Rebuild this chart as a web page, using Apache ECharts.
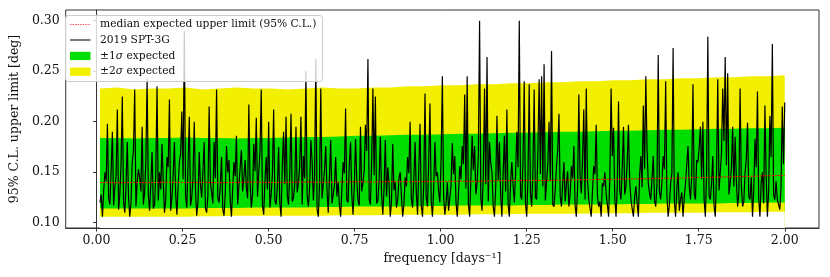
<!DOCTYPE html>
<html><head><meta charset="utf-8">
<script src="https://cdn.jsdelivr.net/npm/echarts@6/dist/echarts.min.js"></script>
<style>html,body{margin:0;padding:0;background:#fff}#c{width:830px;height:277px}</style>
</head><body><div id="c"></div>
<script>
// observed 2019 SPT-3G upper limits (deg), evenly spaced in frequency
const obsStart = 0.01, obsEnd = 2.0;
const observed = [
0.120,0.128,0.106,0.132,0.150,0.141,0.198,0.124,0.118,0.152,0.190,0.117,0.135,0.146,0.212,0.113,0.128,0.158,0.225,0.121,0.110,0.137,0.180,0.126,0.106,0.119,0.160,0.171,0.232,0.116,0.140,0.153,
0.145,0.131,0.195,0.118,0.130,0.162,0.243,0.127,0.112,0.139,0.170,0.114,0.118,0.149,0.235,0.122,0.150,0.133,0.178,0.141,0.110,0.123,0.165,0.155,0.222,0.112,0.125,0.147,0.180,0.129,0.108,0.136,0.160,0.168,0.210,0.143,0.290,0.126,0.115,0.158,0.205,0.117,0.125,0.145,0.200,0.132,0.107,0.121,0.170,0.138,0.125,0.152,0.180,0.114,0.110,0.127,0.215,0.140,0.130,0.119,
0.180,0.144,0.232,0.125,0.120,0.137,0.165,0.113,0.107,0.129,0.176,0.150,0.162,0.121,0.106,0.134,0.160,0.146,0.186,0.118,0.118,0.155,0.172,0.131,0.145,0.162,0.135,0.124,0.217,0.139,0.115,0.128,0.178,0.151,0.204,0.126,0.150,0.170,0.232,0.117,0.108,0.142,0.165,0.133,0.200,0.115,0.128,0.148,0.212,0.122,0.118,0.136,0.175,0.119,0.106,0.157,0.190,0.138,0.205,0.127,
0.118,0.149,0.208,0.121,0.125,0.138,0.195,0.130,0.140,0.156,0.205,0.118,0.166,0.144,0.250,0.127,0.116,0.135,0.182,0.161,0.122,0.146,0.262,0.113,0.106,0.140,0.233,0.124,0.123,0.152,0.176,0.132,0.110,0.145,0.182,0.119,0.120,0.137,0.165,0.126,0.140,0.118,0.106,0.133,0.160,0.149,0.213,0.122,0.120,0.158,0.180,0.128,0.108,0.136,0.183,0.143,0.122,0.117,0.195,0.131,
0.140,0.152,0.197,0.171,0.262,0.123,0.118,0.160,0.233,0.147,0.225,0.119,0.122,0.141,0.185,0.128,0.108,0.134,0.182,0.126,0.155,0.139,0.106,0.121,0.178,0.132,0.140,0.115,0.123,0.144,0.150,0.127,0.106,0.118,0.145,0.136,0.165,0.149,0.200,0.124,0.115,0.142,0.180,0.130,0.108,0.154,0.198,0.117,0.106,0.138,0.228,0.125,0.116,0.161,0.218,0.122,0.106,0.133,0.180,0.146,
0.150,0.131,0.120,0.163,0.245,0.127,0.108,0.119,0.140,0.112,0.125,0.137,0.179,0.148,0.166,0.120,0.106,0.129,0.156,0.143,0.176,0.158,0.227,0.134,0.245,0.118,0.106,0.145,0.186,0.152,0.176,0.128,0.139,0.166,0.300,0.124,0.112,0.147,0.233,0.138,0.264,0.121,0.180,0.159,0.150,0.116,0.106,0.135,0.206,0.142,0.180,0.126,0.106,0.149,0.186,0.131,0.212,0.118,0.106,0.140,
0.160,0.138,0.120,0.147,0.190,0.155,0.300,0.127,0.123,0.161,0.240,0.119,0.106,0.144,0.237,0.130,0.116,0.152,0.232,0.125,0.123,0.170,0.242,0.148,0.245,0.136,0.257,0.122,0.123,0.158,0.200,0.141,0.270,0.118,0.116,0.133,0.156,0.172,0.208,0.126,0.116,0.139,0.160,0.121,0.139,0.151,0.116,0.128,0.156,0.144,0.176,0.117,0.106,0.134,0.227,0.146,0.129,0.163,0.212,0.123,
0.233,0.142,0.123,0.115,0.106,0.131,0.156,0.148,0.197,0.127,0.116,0.121,0.106,0.139,0.136,0.150,0.129,0.118,0.106,0.145,0.233,0.166,0.194,0.124,0.106,0.137,0.220,0.132,0.123,0.155,0.195,0.128,0.136,0.160,0.197,0.141,0.123,0.114,0.106,0.126,0.136,0.119,0.106,0.147,0.166,0.135,0.216,0.153,0.245,0.172,0.139,0.129,0.123,0.144,0.166,0.122,0.116,0.138,0.266,0.131,
0.123,0.141,0.166,0.153,0.240,0.127,0.106,0.118,0.139,0.149,0.273,0.121,0.106,0.134,0.150,0.112,0.123,0.130,0.106,0.125,0.139,0.158,0.176,0.137,0.123,0.146,0.237,0.129,0.123,0.162,0.160,0.174,0.195,0.143,0.200,0.122,0.106,0.151,0.284,0.126,0.123,0.139,0.166,0.117,0.106,0.148,0.242,0.132,0.150,0.169,0.233,0.181,0.264,0.157,0.248,0.128,0.139,0.154,0.195,0.136,
0.185,0.142,0.116,0.129,0.233,0.137,0.116,0.121,0.150,0.163,0.199,0.126,0.123,0.145,0.106,0.132,0.183,0.155,0.230,0.124,0.106,0.140,0.150,0.119,0.216,0.147,0.106,0.131,0.206,0.165,0.277,0.128,0.123,0.141,0.123,0.118,0.113,0.136,0.215,0.158,0.219
];
// expected bands, evenly spaced in frequency
const bandStart = 0.01, bandEnd = 2.0;
const upper2 = [0.233,0.234,0.232,0.233,0.233,0.234,0.232,0.233,0.234,0.233,0.233,0.232,0.233,0.234,0.233,0.233,0.234,0.234,0.235,0.235,0.236,0.236,0.237,0.237,0.238,0.238,0.239,0.239,0.240,0.240,0.241,0.241,0.242,0.242,0.243,0.243,0.244,0.244,0.245,0.245,0.246];
const upper1 = [0.184,0.184,0.1835,0.184,0.184,0.1845,0.184,0.184,0.1835,0.184,0.184,0.1845,0.185,0.185,0.1855,0.186,0.186,0.1865,0.187,0.187,0.1875,0.188,0.188,0.1885,0.189,0.189,0.1895,0.190,0.190,0.1905,0.191,0.191,0.1915,0.192,0.192,0.1925,0.193,0.193,0.1935,0.1935,0.194];
const lower1 = [0.114,0.114,0.114,0.114,0.114,0.114,0.1145,0.1145,0.1145,0.115,0.115,0.115,0.115,0.1155,0.1155,0.116,0.116,0.116,0.116,0.1165,0.1165,0.117,0.117,0.117,0.117,0.1175,0.1175,0.118,0.118,0.118,0.118,0.1185,0.1185,0.119,0.119,0.119,0.119,0.1195,0.1195,0.120,0.120];
const lower2 = [0.106,0.106,0.106,0.106,0.106,0.106,0.1065,0.1065,0.107,0.107,0.107,0.107,0.107,0.107,0.1075,0.1075,0.1075,0.108,0.108,0.108,0.108,0.108,0.1085,0.1085,0.1085,0.109,0.109,0.109,0.109,0.1095,0.1095,0.1095,0.110,0.110,0.110,0.110,0.1105,0.1105,0.1105,0.111,0.111];
const median = [0.1398,0.1395,0.1400,0.1397,0.1402,0.1398,0.1401,0.1396,0.1400,0.1403,0.1399,0.1401,0.1404,0.1400,0.1403,0.1406,0.1403,0.1407,0.1405,0.1409,0.1410,0.1412,0.1410,0.1415,0.1417,0.1420,0.1418,0.1423,0.1425,0.1428,0.1430,0.1434,0.1436,0.1440,0.1443,0.1448,0.1452,0.1455,0.1460,0.1465,0.1470];
const xTicks = [0, 0.25, 0.5, 0.75, 1.0, 1.25, 1.5, 1.75, 2.0];
const yTicks = [0.10, 0.15, 0.20, 0.25, 0.30];
const labels = {
  median: 'median expected upper limit (95% C.L.)',
  obs: '2019 SPT-3G',
  s1: '±1{i|σ} expected',
  s2: '±2{i|σ} expected'
};

const FONT = 'DejaVu Serif';
const YELLOW = '#f2f000', GREEN = '#00dd00';
const LFONT = '10.7px "DejaVu Serif"';
function grid(start, end, n) { const a = []; for (let i = 0; i < n; i++) a.push(start + (end - start) * i / (n - 1)); return a; }
const fObs = grid(obsStart, obsEnd, observed.length);
const fBand = grid(bandStart, bandEnd, upper2.length);
const pairs = (xs, ys) => ys.map((y, i) => [xs[i], y]);
const band = (name, ys, color, z) => ({type: 'line', name, symbol: 'none', silent: true, z,
  lineStyle: {width: 0}, areaStyle: {color, opacity: 1, origin: 'start'}, data: pairs(fBand, ys)});

const chart = echarts.init(document.getElementById('c'), null, {renderer: 'canvas'});
chart.setOption({
  animation: false,
  grid: {left: 60, right: 11, top: 10, bottom: 49, show: true, borderColor: '#333', borderWidth: 1, backgroundColor: 'transparent'},
  xAxis: {
    type: 'value', min: -0.0895, max: 2.0995, z: 20,
    axisLine: {show: true, lineStyle: {color: '#333', width: 1}},
    axisTick: {show: true, length: 3.5, lineStyle: {color: '#333'}, customValues: xTicks},
    axisLabel: {customValues: xTicks, formatter: v => v.toFixed(2), fontFamily: FONT, fontSize: 12.5, color: '#111', margin: 6},
    splitLine: {show: false},
    name: 'frequency [days⁻¹]', nameLocation: 'middle', nameGap: 23,
    nameTextStyle: {fontFamily: FONT, fontSize: 12.5, color: '#111'}
  },
  yAxis: {
    type: 'value', min: 0.0948, max: 0.3106, z: 20,
    axisLine: {show: true, lineStyle: {color: '#333', width: 1}},
    axisTick: {show: true, length: 3.5, lineStyle: {color: '#333'}, customValues: yTicks},
    axisLabel: {customValues: yTicks, formatter: v => v.toFixed(2), fontFamily: FONT, fontSize: 12.5, color: '#111', margin: 6},
    splitLine: {show: false},
    name: '95% C.L. upper limit [deg]', nameLocation: 'middle', nameGap: 41,
    nameTextStyle: {fontFamily: FONT, fontSize: 12.5, color: '#111'}
  },
  series: [
    band('+2σ', upper2, YELLOW, 2),
    band('+1σ', upper1, GREEN, 3),
    band('-1σ', lower1, YELLOW, 4),
    band('-2σ', lower2, '#ffffff', 5),
    {type: 'line', name: labels.obs, symbol: 'none', z: 8, data: pairs(fObs, observed),
     lineStyle: {color: '#000', width: 1.2}},
    {type: 'line', name: labels.median, symbol: 'none', z: 9, data: pairs(fBand, median),
     lineStyle: {color: '#ff0000', width: 1, type: [2, 1]}}
  ],
  graphic: [
    {type: 'rect', z: 100, shape: {x: 65.5, y: 15.5, width: 257, height: 66, r: 3}, style: {fill: 'rgba(255,255,255,0.8)', stroke: '#cccccc', lineWidth: 1}},
    {type: 'line', z: 101, shape: {x1: 70, y1: 24.5, x2: 90.5, y2: 24.5}, style: {stroke: '#ff5a5a', lineWidth: 1, lineDash: [1.5, 1]}},
    {type: 'text', z: 101, x: 100, y: 24.5, style: {text: labels.median, font: LFONT, fill: '#111', verticalAlign: 'middle'}},
    {type: 'line', z: 101, shape: {x1: 70, y1: 40, x2: 90.5, y2: 40}, style: {stroke: '#7a7a7a', lineWidth: 2}},
    {type: 'text', z: 101, x: 100, y: 40, style: {text: labels.obs, font: LFONT, fill: '#111', verticalAlign: 'middle'}},
    {type: 'rect', z: 101, shape: {x: 70, y: 51.8, width: 20.5, height: 8.3}, style: {fill: GREEN}},
    {type: 'text', z: 101, x: 100, y: 56, style: {text: labels.s1, font: LFONT, fill: '#111', verticalAlign: 'middle', rich: {i: {fontStyle: 'italic', fontFamily: FONT, fontSize: 10.7}}}},
    {type: 'rect', z: 101, shape: {x: 70, y: 67.5, width: 20.5, height: 8.3}, style: {fill: YELLOW}},
    {type: 'text', z: 101, x: 100, y: 71.7, style: {text: labels.s2, font: LFONT, fill: '#111', verticalAlign: 'middle', rich: {i: {fontStyle: 'italic', fontFamily: FONT, fontSize: 10.7}}}}
  ]
});
</script></body></html>
